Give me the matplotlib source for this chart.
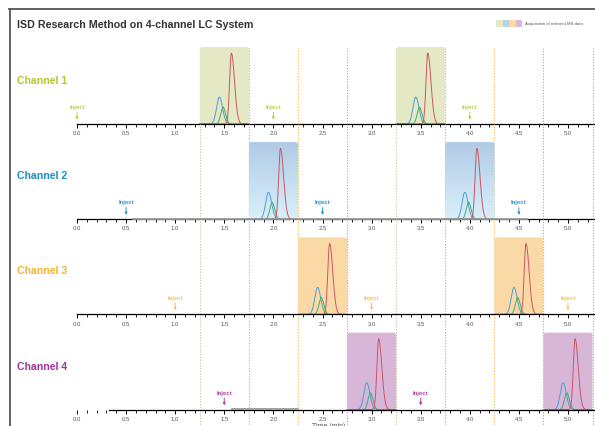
import numpy as np
import matplotlib.pyplot as plt
from matplotlib.patches import FancyBboxPatch, Rectangle
from matplotlib.lines import Line2D
from matplotlib.colors import to_rgb

plt.rcParams['font.family'] = ['Liberation Sans', 'DejaVu Sans']

# channel data
channels = ['Channel 1', 'Channel 2', 'Channel 3', 'Channel 4']
channel_colors = ['#b7c431', '#1a8bc6', '#f8b230', '#a5319c']
inject_colors = ['#c3cc52', '#2a98cf', '#f9bf5a', '#b0409f']
box_colors = ['#e4e8c4', '#c4dcef', '#fad9a6', '#d7b6d8']
window_starts = [[1.25, 3.25], [1.75, 3.75], [2.25, 4.25], [2.75, 4.75]]
window_width = 0.5
inject_times = [[0.0, 2.0, 4.0], [0.5, 2.5, 4.5], [1.0, 3.0, 5.0], [1.5, 3.5]]
baseline_runs = [None, (0.57, 4.58), None, (1.58, 2.25)]

# three analytes eluting inside each acquisition window
peak_offsets = [0.20, 0.237, 0.322]
peak_heights = [0.35, 0.22, 0.92]
peak_sigma_left = [0.029, 0.023, 0.018]
peak_sigma_right = [0.032, 0.026, 0.032]
peak_colors = ['#4d9fd6', '#45ad68', '#cc5660']

divider_times = [1.25, 1.75, 2.25, 2.75, 3.25, 3.75, 4.25, 4.75, 5.25]
divider_colors = ['#c9c394', '#6cc7e0', '#f5b846', '#c98ac9',
                  '#c9c394', '#6cc7e0', '#f5b846', '#c98ac9', '#c98ac9']

legend_colors = ['#e4e8c4', '#b6d3ec', '#fad9a6', '#d7b6d8']

W, H = 595, 427
left_px = 77
baselines = [125, 220.2, 315.4, 410.6]
panel_h = 95.2
box_px = 77
xmax = (W - left_px) / 98.2
ytop = panel_h / box_px


def peak(t, center, height, s_left, s_right):
    s = np.where(t < center, s_left, s_right)
    return height * np.exp(-0.5 * ((t - center) / s) ** 2)


fig = plt.figure(figsize=(W / 100, H / 100), dpi=100)

# outer frame
fig.add_artist(Line2D([9.5 / W, 9.5 / W], [0, 1 - 10 / H], color='#555555',
                      lw=1.3, transform=fig.transFigure))
fig.add_artist(Line2D([9 / W, 1], [1 - 10 / H, 1 - 10 / H], color='#555555',
                      lw=1.3, transform=fig.transFigure))

fig.text(17 / W, 1 - 25 / H, 'ISD Research Method on 4-channel LC System',
         fontsize=7.7, fontweight='bold', color='#333333', va='center')

# legend swatches
for i, c in enumerate(legend_colors):
    fig.add_artist(Rectangle(((496 + 6.5 * i) / W, 1 - 28 / H), 6.5 / W, 7 / H,
                             color=c, transform=fig.transFigure, lw=0))
fig.text(525 / W, 1 - 24.5 / H, 'Acquisition of relevent MS data',
         fontsize=3.1, color='#555555', va='center')

for k, name in enumerate(channels):
    b = baselines[k]
    ax = fig.add_axes([left_px / W, (H - b) / H, (W - left_px) / W, panel_h / H])
    ax.set_xlim(0, xmax)
    ax.set_ylim(0, ytop)
    ax.patch.set_alpha(0)

    # window boundaries shared across channels
    for t, c in zip(divider_times, divider_colors):
        if k == 0:
            ax.axvline(t, ymin=0, ymax=1 / ytop, color=c, lw=0.8,
                       ls=(0, (1, 1.5)), zorder=0.5)
        elif k == 3:
            ax.axvline(t, ymin=-0.3, ymax=1, color=c, lw=0.8,
                       ls=(0, (1, 1.5)), zorder=0.5, clip_on=False)
        else:
            ax.axvline(t, color=c, lw=0.8, ls=(0, (1, 1.5)), zorder=0.5)

    for x0 in window_starts[k]:
        box = FancyBboxPatch((x0, 0), window_width, 1,
                             boxstyle='round,pad=0,rounding_size=0.025',
                             mutation_aspect=1.28, lw=0,
                             fc=box_colors[k], zorder=1)
        ax.add_patch(box)
        if k == 1:
            top = np.array(to_rgb('#b0cbe7'))
            bottom = np.array(to_rgb('#d9eff9'))
            f = np.linspace(0, 1, 100)[:, None]
            grad = (top * (1 - f) + bottom * f)[:, None, :]
            im = ax.imshow(grad, extent=[x0, x0 + window_width, 0, 1],
                           aspect='auto', zorder=1.1, origin='upper')
            im.set_clip_path(box)

        t = np.linspace(x0, x0 + window_width, 400)
        for off, h, sl, sr, pc in zip(peak_offsets, peak_heights, peak_sigma_left,
                                      peak_sigma_right, peak_colors):
            ax.plot(t, peak(t, x0 + off, h, sl, sr), color=pc, lw=0.7, zorder=2)

    if baseline_runs[k] is not None:
        ax.plot(baseline_runs[k], [0.005, 0.005], color='#9a9a9a', lw=1.3,
                zorder=3, clip_on=False)

    for t in inject_times[k]:
        ax.annotate('', xy=(t, 0.055), xytext=(t, 0.15),
                    arrowprops=dict(arrowstyle='-|>', color=inject_colors[k],
                                    lw=0.7, mutation_scale=3.5,
                                    shrinkA=0, shrinkB=0))
        ax.text(t, 0.225, 'Inject', ha='center', va='center', fontsize=4.3,
                fontweight='bold', color=inject_colors[k])

    fig.text(17 / W, 1 - (b - 44) / H, name, fontsize=7.6, fontweight='bold',
             color=channel_colors[k], va='center')

    for s in ['left', 'right', 'top']:
        ax.spines[s].set_visible(False)
    ax.spines['bottom'].set_linewidth(0.9)
    ax.spines['bottom'].set_zorder(2.5)
    if k == 3:
        ax.spines['bottom'].set_bounds(0.33, xmax)
    ax.set_yticks([])
    ax.set_xticks(np.arange(0, 5.01, 0.5))
    ax.set_xticks(np.arange(0, 5.25, 0.1), minor=True)
    ax.set_xticklabels(['%.1f' % v for v in np.arange(0, 5.01, 0.5)])
    ax.tick_params(axis='x', which='major', direction='out', length=3.2,
                   width=0.7, labelsize=4.3, labelcolor='#555555', pad=1.2)
    ax.tick_params(axis='x', which='minor', direction='out', length=1.8,
                   width=0.6)

fig.text(312 / W, 1 - 423.5 / H, 'Time (min)', fontsize=5, color='#555555',
         va='top')

fig.savefig('out.png', dpi=100)
